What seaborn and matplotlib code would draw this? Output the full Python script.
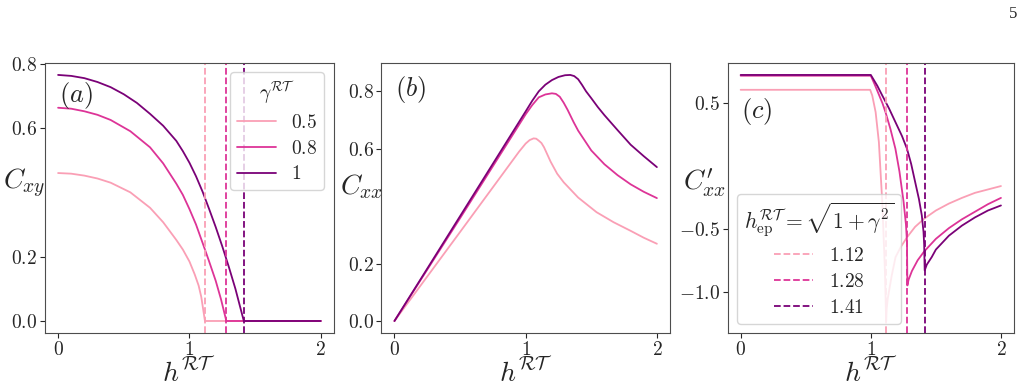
import seaborn as sns
import matplotlib.pyplot as plt

sns.set_style('ticks')
plt.rcParams['mathtext.fontset'] = 'cm'
plt.rcParams['font.family'] = ['DejaVu Serif']

colors = ['#fa9fb5', '#dd3497', '#7a0177']
gamma_labels = ['$0.5$', '$0.8$', '$1$']
h_ep = [1.118, 1.281, 1.414]
h_ep_labels = ['$1.12$', '$1.28$', '$1.41$']

# (a) C_xy vs h
h_a_05 = [0, 0.1, 0.2, 0.3, 0.4, 0.55, 0.7, 0.8, 0.9, 0.95, 1.0, 1.04, 1.07, 1.09, 1.105, 1.118,
          2.0]
c_a_05 = [0.46, 0.458, 0.452, 0.443, 0.43, 0.4, 0.352, 0.307, 0.252, 0.222, 0.185, 0.145, 0.11,
          0.075, 0.035, 0.0, 0.0]
h_a_08 = [0, 0.1, 0.2, 0.3, 0.4, 0.55, 0.7, 0.8, 0.9, 0.95, 1.0, 1.05, 1.1, 1.15, 1.2, 1.24,
          1.281, 2.0]
c_a_08 = [0.663, 0.66, 0.652, 0.641, 0.625, 0.59, 0.54, 0.49, 0.427, 0.392, 0.348, 0.3, 0.243,
          0.185, 0.125, 0.068, 0.0, 0.0]
h_a_10 = [0, 0.1, 0.2, 0.3, 0.4, 0.5, 0.6, 0.7, 0.8, 0.9, 0.95, 1.0, 1.05, 1.1, 1.15, 1.2, 1.25,
          1.3, 1.35, 1.414, 2.0]
c_a_10 = [0.765, 0.762, 0.755, 0.743, 0.727, 0.705, 0.678, 0.644, 0.607, 0.56, 0.528, 0.492,
          0.45, 0.402, 0.348, 0.292, 0.232, 0.168, 0.1, 0.0, 0.0]

# (b) C_xx vs h
h_b_05 = [0, 0.5, 0.95, 1.0, 1.03, 1.06, 1.08, 1.1, 1.12, 1.14, 1.16, 1.19, 1.24, 1.29, 1.4, 1.54,
          1.67, 1.8, 1.9, 2.0]
c_b_05 = [0, 0.31, 0.59, 0.618, 0.63, 0.636, 0.635, 0.628, 0.62, 0.605, 0.585, 0.555, 0.513,
          0.483, 0.43, 0.379, 0.344, 0.314, 0.29, 0.269]
h_b_08 = [0, 0.5, 1.0, 1.05, 1.1, 1.15, 1.2, 1.23, 1.26, 1.29, 1.32, 1.365, 1.4, 1.5, 1.6, 1.7,
          1.8, 1.9, 2.0]
c_b_08 = [0, 0.358, 0.72, 0.752, 0.779, 0.789, 0.793, 0.791, 0.781, 0.76, 0.735, 0.693, 0.663,
          0.594, 0.546, 0.508, 0.476, 0.45, 0.428]
h_b_10 = [0, 0.5, 1.0, 1.05, 1.1, 1.15, 1.2, 1.25, 1.3, 1.34, 1.37, 1.4, 1.43, 1.46, 1.5, 1.55,
          1.6, 1.7, 1.8, 1.9, 2.0]
c_b_10 = [0, 0.365, 0.73, 0.767, 0.8, 0.823, 0.839, 0.85, 0.856, 0.857, 0.853, 0.842, 0.822, 0.8,
          0.776, 0.745, 0.717, 0.665, 0.614, 0.574, 0.536]

# (c) C'_xx vs h
h_c_05 = [0, 0.995, 1.011, 1.037, 1.062, 1.088, 1.108, 1.118, 1.122, 1.13, 1.14, 1.16, 1.19,
          1.23, 1.28, 1.34, 1.41, 1.5, 1.6, 1.7, 1.8, 1.9, 2.0]
c_c_05 = [0.608, 0.608, 0.563, 0.431, 0.193, -0.283, -0.81, -1.227, -1.13, -1.05, -0.99, -0.87,
          -0.72, -0.64, -0.56, -0.48, -0.415, -0.35, -0.295, -0.25, -0.21, -0.183, -0.156]
h_c_08 = [0, 1.0, 1.03, 1.06, 1.09, 1.113, 1.15, 1.189, 1.22, 1.252, 1.27, 1.278, 1.281, 1.29,
          1.316, 1.36, 1.41, 1.5, 1.6, 1.7, 1.8, 1.9, 2.0]
c_c_08 = [0.72, 0.72, 0.65, 0.575, 0.5, 0.43, 0.3, 0.14, -0.04, -0.283, -0.46, -0.6, -0.945, -0.9,
          -0.83, -0.745, -0.675, -0.575, -0.49, -0.42, -0.36, -0.3, -0.25]
h_c_10 = [0, 1.0, 1.05, 1.088, 1.14, 1.189, 1.24, 1.278, 1.31, 1.341, 1.37, 1.392, 1.405, 1.41,
          1.414, 1.43, 1.468, 1.5, 1.6, 1.7, 1.8, 1.9, 2.0]
c_c_10 = [0.726, 0.726, 0.64, 0.563, 0.46, 0.352, 0.24, 0.14, 0.02, -0.125, -0.26, -0.39, -0.52,
          -0.62, -0.826, -0.78, -0.72, -0.66, -0.55, -0.47, -0.405, -0.35, -0.31]

fig = plt.figure(figsize=(10.24, 3.9), dpi=100)
ax1 = fig.add_axes([0.0439, 0.1454, 0.2822, 0.694])
ax2 = fig.add_axes([0.3724, 0.1454, 0.2819, 0.694])
ax3 = fig.add_axes([0.7106, 0.1454, 0.2796, 0.694])

panels = [
    (ax1, [h_a_05, h_a_08, h_a_10], [c_a_05, c_a_08, c_a_10]),
    (ax2, [h_b_05, h_b_08, h_b_10], [c_b_05, c_b_08, c_b_10]),
    (ax3, [h_c_05, h_c_08, h_c_10], [c_c_05, c_c_08, c_c_10]),
]
for ax, hs, cs in panels:
    for i in range(3):
        sns.lineplot(x=hs[i], y=cs[i], color=colors[i], ax=ax, estimator=None,
                     sort=False, lw=1.3, label=gamma_labels[i], legend=False)

for ax in [ax1, ax3]:
    for i in range(3):
        ax.axvline(h_ep[i], color=colors[i], ls='--', lw=1.3, label=h_ep_labels[i])

for ax in [ax1, ax2, ax3]:
    ax.set_xlim(-0.1, 2.1)
    ax.set_xticks([0, 1, 2])
    ax.set_xticklabels(['$0$', '$1$', '$2$'])
    ax.tick_params(labelsize=14, length=3.5, width=0.8, colors='.15', pad=2)
    ax.set_xlabel(r'$h^{\mathcal{RT}}$', fontsize=20, labelpad=-1)
    for s in ax.spines.values():
        s.set_color('.3')

ax1.set_yticks([0, 0.2, 0.6, 0.8])
ax1.set_yticklabels(['$0.0$', '$0.2$', '$0.6$', '$0.8$'])
ax2.set_yticks([0, 0.2, 0.6, 0.8])
ax2.set_yticklabels(['$0.0$', '$0.2$', '$0.6$', '$0.8$'])
ax3.set_yticks([-1.0, -0.5, 0.5])
ax3.set_yticklabels(['$-1.0$', '$-0.5$', '$0.5$'])

ylabels = [r'$C_{xy}$', r'$C_{xx}$', r"$C^{\prime}_{xx}$"]
ylab_pos = [(-0.073, 0.555), (-0.07, 0.542), (-0.079, 0.555)]
for ax, lab, pos in zip([ax1, ax2, ax3], ylabels, ylab_pos):
    ax.set_ylabel(lab, fontsize=20, rotation=0, ha='center', va='center')
    ax.yaxis.set_label_coords(*pos)

ax1.text(0.05, 0.88, '$(a)$', transform=ax1.transAxes, fontsize=19, va='center')
ax2.text(0.047, 0.9, '$(b)$', transform=ax2.transAxes, fontsize=19, va='center')
ax3.text(0.046, 0.82, '$(c)$', transform=ax3.transAxes, fontsize=19, va='center')

h1, l1 = ax1.get_legend_handles_labels()
ax1.legend(h1[:3], l1[:3], title=r'$\gamma^{\mathcal{RT}}$', loc='upper right', fontsize=14,
           title_fontsize=14, frameon=True, labelspacing=0.4, borderpad=0.35)
h3, l3 = ax3.get_legend_handles_labels()
ax3.legend(h3[3:], l3[3:], title=r'$h^{\mathcal{RT}}_{\mathrm{ep}} = \sqrt{1+\gamma^2}$',
           loc='lower left', fontsize=14, title_fontsize=15.5, frameon=True,
           labelspacing=0.4, borderpad=0.35)

fig.text(0.989, 0.964, '5', fontsize=12, ha='center', va='center', family='Liberation Serif')

plt.savefig('out.png', dpi=100)
